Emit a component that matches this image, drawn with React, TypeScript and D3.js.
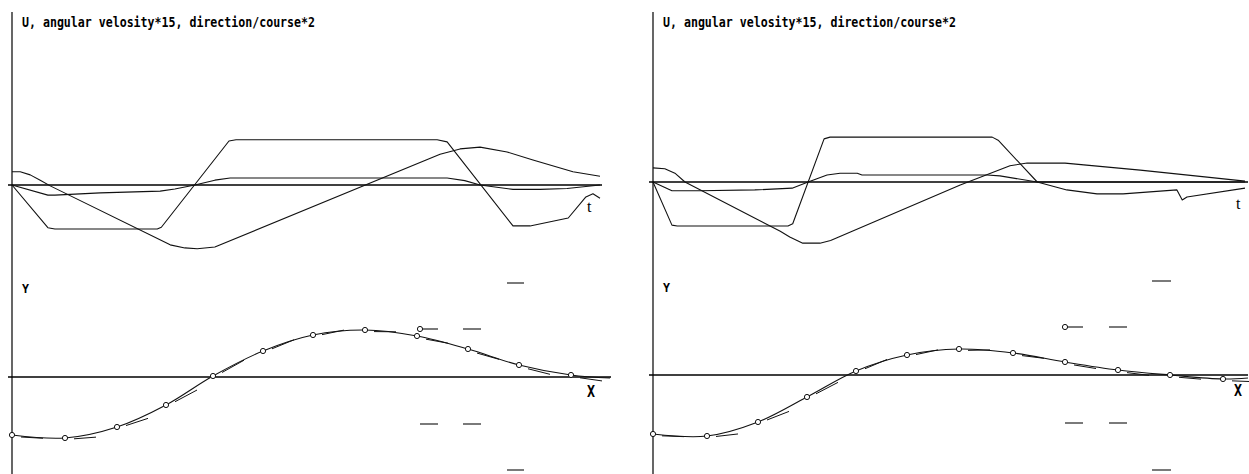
import React from "react";
import * as d3 from "d3";

// ---------- DATA ----------
const TITLE = "U, angular velosity*15, direction/course*2";

// Top-left panel: t in [0,100]
const uLeftT = [0, 6.1, 7.3, 24.7, 25.4, 36.9, 38.1, 72.3, 74.0, 85.2, 88.1, 94.6, 97.6, 98.8, 100];
const uLeftV = [0, -0.97, -1.0, -1.0, -0.96, 1.0, 1.03, 1.03, 0.98, -0.93, -0.93, -0.75, -0.27, -0.2, -0.3];
const dLeftT = [0, 1.4, 3.1, 4.8, 6.5, 26.9, 29.4, 31.5, 34.5, 72.8, 76.2, 79.6, 84.2, 88.6, 95.4, 100];
const dLeftV = [0.3, 0.3, 0.23, 0.11, -0.02, -1.36, -1.43, -1.45, -1.41, 0.7, 0.82, 0.86, 0.75, 0.57, 0.3, 0.2];
const aLeftT = [0, 6.1, 7.3, 15.0, 25.2, 27.7, 31.1, 34.5, 37.1, 74.0, 77.0, 79.6, 85.2, 89.8, 94.4, 100];
const aLeftV = [0, -0.23, -0.23, -0.18, -0.14, -0.09, 0, 0.11, 0.16, 0.16, 0.1, 0, -0.1, -0.1, -0.08, 0];

// Top-right panel
const uRightT = [0, 3.2, 4.1, 22.8, 23.6, 28.9, 29.9, 57.3, 58.3, 64.9, 100];
const uRightV = [0, -0.98, -1.0, -1.0, -0.95, 0.98, 1.02, 1.02, 0.95, 0, 0];
const dRightT = [0, 2.0, 3.7, 5.4, 21.5, 23.1, 25.3, 28.2, 30.0, 51.9, 60.3, 63.2, 69.6, 82.3, 93.6, 100];
const dRightV = [0.32, 0.3, 0.2, 0, -1.12, -1.25, -1.39, -1.39, -1.33, -0.07, 0.37, 0.43, 0.43, 0.27, 0.11, 0.02];
const aRightT = [0, 3.2, 7.9, 17.2, 23.5, 26.2, 29.4, 31.6, 34.5, 35.3, 56.4, 58.6, 64.9, 69.9, 75.0, 79.4, 88.5, 89.4, 90.2, 100];
const aRightV = [0, -0.2, -0.2, -0.18, -0.14, 0, 0.16, 0.2, 0.2, 0.16, 0.16, 0.14, 0, -0.18, -0.27, -0.27, -0.18, -0.41, -0.34, -0.14];

// Bottom-left panel: trajectory points (X, Y)
const bLeftX = [0, 1.06, 2.1, 3.08, 4.02, 5.02, 6.02, 7.06, 8.1, 9.12, 10.14, 11.18];
const bLeftY = [-1.16, -1.22, -1.0, -0.56, 0.02, 0.52, 0.84, 0.94, 0.82, 0.56, 0.24, 0.04];
const bLeftEnd = [11.96, -0.02];
// Bottom-right panel
const bRightX = [0, 1.08, 2.1, 3.08, 4.06, 5.08, 6.12, 7.2, 8.24, 9.3, 10.34, 11.4];
const bRightY = [-1.18, -1.22, -0.94, -0.44, 0.08, 0.4, 0.52, 0.44, 0.26, 0.1, 0.0, -0.08];
const bRightEnd = [11.9, -0.06];

// Marker dashes in bottom panels
const mLeftX1 = [9.9, 8.16, 9.02, 8.16, 9.02, 9.9];
const mLeftX2 = [10.24, 8.52, 9.38, 8.52, 9.38, 10.24];
const mLeftV = [1.88, 0.96, 0.96, -0.94, -0.94, -1.86];
const mRightX1 = [9.98, 8.24, 9.12, 8.24, 9.12, 9.98];
const mRightX2 = [10.36, 8.6, 9.48, 8.6, 9.48, 10.36];
const mRightV = [1.88, 0.96, 0.96, -0.96, -0.96, -1.9];
const mCircle = [false, true, false, false, false, false];

type PanelCfg = {
  x0: number; x1: number; axisTop: number; axisBottom: number;
  top: { t: number[]; v: number[] }[];
  bx: number[]; by: number[]; bEnd: number[];
  mx1: number[]; mx2: number[]; mv: number[];
  tLabel: [number, number]; xLabel: [number, number]; yLabel: [number, number];
  topAxisEnd: number; botAxisEnd: number;
};

const INK = "#111";

function Panel({ c }: { c: PanelCfg }) {
  const xt = d3.scaleLinear().domain([0, 100]).range([c.x0, c.x1]);
  const yt = d3.scaleLinear().domain([-1, 1]).range([c.axisTop + 44, c.axisTop - 44]);
  const lineTop = d3.line<[number, number]>()
    .x((d) => xt(d[0])).y((d) => yt(d[1])).curve(d3.curveLinear);

  const xb = d3.scaleLinear().domain([0, 12]).range([c.x0, c.x0 + 600]);
  const yb = d3.scaleLinear().domain([-2, 2]).range([c.axisBottom + 100, c.axisBottom - 100]);
  const pts: [number, number][] = c.bx.map((x, i) => [x, c.by[i]]);
  const allPts: [number, number][] = [...pts, [c.bEnd[0], c.bEnd[1]]];
  const lineBot = d3.line<[number, number]>()
    .x((d) => xb(d[0])).y((d) => yb(d[1])).curve(d3.curveCatmullRom.alpha(0.5));

  const tangents = pts.map((p, i) => {
    const prev = allPts[Math.max(0, i - 1)];
    const next = allPts[i + 1];
    const slope = (next[1] - prev[1]) / (next[0] - prev[0]);
    return [
      [p[0] + 0.18, p[1] + slope * 0.18],
      [p[0] + 0.62, p[1] + slope * 0.62],
    ];
  });

  return (
    <g>
      <line x1={c.x0} x2={c.x0} y1={12} y2={474} stroke="#000" strokeWidth={1.2} />
      <text x={c.x0 + 10} y={27} fontFamily="DejaVu Sans Mono" fontWeight="bold" fontSize={14}
        textLength={293} lengthAdjust="spacingAndGlyphs" fill="#000">{TITLE}</text>
      <line x1={c.x0 - 4} x2={c.topAxisEnd} y1={c.axisTop} y2={c.axisTop} stroke="#000" strokeWidth={1.4} />
      {c.top.map((s, i) => (
        <path key={i} d={lineTop(s.t.map((t, j) => [t, s.v[j]]) as [number, number][]) || ""}
          fill="none" stroke={INK} strokeWidth={1.1} strokeLinejoin="round" />
      ))}
      <text x={c.tLabel[0]} y={c.tLabel[1]} fontFamily="Liberation Serif" fontSize={16} fill="#000">t</text>
      <line x1={c.x0 - 4} x2={c.botAxisEnd} y1={c.axisBottom} y2={c.axisBottom} stroke="#000" strokeWidth={1.4} />
      <text x={c.yLabel[0]} y={c.yLabel[1]} fontFamily="DejaVu Sans Mono" fontWeight="bold" fontSize={13}
        textLength={7} lengthAdjust="spacingAndGlyphs" fill="#000">Y</text>
      <text x={c.xLabel[0]} y={c.xLabel[1]} fontFamily="DejaVu Sans Mono" fontWeight="bold" fontSize={15}
        textLength={8} lengthAdjust="spacingAndGlyphs" fill="#000">X</text>
      <path d={lineBot(allPts) || ""} fill="none" stroke={INK} strokeWidth={1.1} />
      {tangents.map((t, i) => (
        <line key={i} x1={xb(t[0][0])} y1={yb(t[0][1]) + 1.5} x2={xb(t[1][0])} y2={yb(t[1][1]) + 1.5}
          stroke={INK} strokeWidth={1} />
      ))}
      {pts.map((p, i) => (
        <circle key={i} cx={xb(p[0])} cy={yb(p[1])} r={2.6} fill="#fff" stroke={INK} strokeWidth={1} />
      ))}
      {c.mx1.map((x, i) => (
        <g key={i}>
          <line x1={xb(x)} x2={xb(c.mx2[i])} y1={yb(c.mv[i])} y2={yb(c.mv[i])} stroke="#222" strokeWidth={1.2} />
          {mCircle[i] && <circle cx={xb(x)} cy={yb(c.mv[i])} r={2.6} fill="#fff" stroke={INK} strokeWidth={1} />}
        </g>
      ))}
    </g>
  );
}

export default function App() {
  const left: PanelCfg = {
    x0: 12, x1: 600, axisTop: 185, axisBottom: 377,
    top: [{ t: uLeftT, v: uLeftV }, { t: dLeftT, v: dLeftV }, { t: aLeftT, v: aLeftV }],
    bx: bLeftX, by: bLeftY, bEnd: bLeftEnd,
    mx1: mLeftX1, mx2: mLeftX2, mv: mLeftV,
    tLabel: [587, 212], xLabel: [587, 397], yLabel: [22, 293],
    topAxisEnd: 602, botAxisEnd: 611,
  };
  const right: PanelCfg = {
    x0: 653, x1: 1245, axisTop: 182, axisBottom: 375,
    top: [{ t: uRightT, v: uRightV }, { t: dRightT, v: dRightV }, { t: aRightT, v: aRightV }],
    bx: bRightX, by: bRightY, bEnd: bRightEnd,
    mx1: mRightX1, mx2: mRightX2, mv: mRightV,
    tLabel: [1236, 209], xLabel: [1234, 396], yLabel: [663, 292],
    topAxisEnd: 1248, botAxisEnd: 1248,
  };
  return (
    <svg width={1249} height={474} style={{ position: "absolute", left: 0, top: 0, background: "#fff" }}>
      <rect width={1249} height={474} fill="#fff" />
      <Panel c={left} />
      <Panel c={right} />
    </svg>
  );
}
